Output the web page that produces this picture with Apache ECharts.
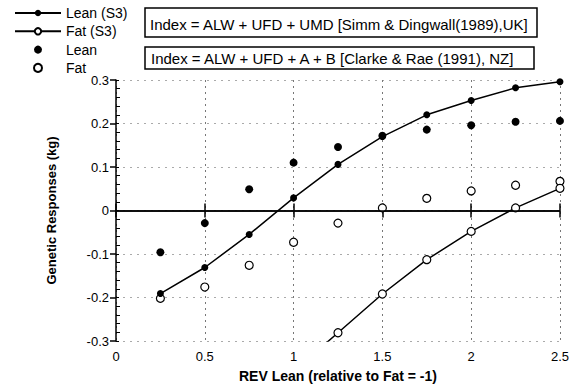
<!DOCTYPE html>
<html><head><meta charset="utf-8">
<script src="https://cdn.jsdelivr.net/npm/echarts@6/dist/echarts.min.js"></script>
<style>html,body{margin:0;padding:0;background:#fff}#c{width:572px;height:388px}</style>
</head><body><div id="c"></div>
<script>
// ---- data ----
const xValues   = [0.25, 0.5, 0.75, 1.0, 1.25, 1.5, 1.75, 2.0, 2.25, 2.5];
const leanS3    = [-0.191, -0.131, -0.055, 0.029, 0.106, 0.170, 0.220, 0.253, 0.282, 0.296];
const fatS3     = [null, null, null, -0.370, -0.281, -0.192, -0.113, -0.048, 0.006, 0.051];
const lean      = [-0.096, -0.029, 0.049, 0.110, 0.146, 0.172, 0.186, 0.196, 0.204, 0.206];
const fat       = [-0.202, -0.176, -0.126, -0.073, -0.029, 0.006, 0.028, 0.045, 0.058, 0.067];
const seriesNames = ['Lean (S3)', 'Fat (S3)', 'Lean', 'Fat'];
const xTickLabels = ['0', '0.5', '1', '1.5', '2', '2.5'];
const yTickLabels = ['-0.3', '-0.2', '-0.1', '0', '0.1', '0.2', '0.3'];
const boxTexts = [
  'Index = ALW + UFD + UMD [Simm & Dingwall(1989),UK]',
  'Index = ALW + UFD + A + B [Clarke & Rae (1991), NZ]'
];
const xTitle = 'REV Lean (relative to Fat = -1)';
const yTitle = 'Genetic Responses (kg)';

function pairs(arr) {
  const out = [];
  arr.forEach((v, i) => { if (v !== null) out.push([xValues[i], v]); });
  return out;
}

const FONT = 'Liberation Sans, Arial, sans-serif';
const chart = echarts.init(document.getElementById('c'), null, {renderer: 'svg'});

const xLabelFmt = v => xTickLabels[Math.round(v / 0.5)];
const yLabelFmt = v => yTickLabels[Math.round((v + 0.3) / 0.1)];

chart.setOption({
  animation: false,
  backgroundColor: '#fff',
  grid: {left: 116, right: 8, top: 80, bottom: 40},
  legend: {
    orient: 'vertical', left: 9, top: 1,
    itemWidth: 46, itemHeight: 8, itemGap: 4.3,
    data: seriesNames,
    textStyle: {fontSize: 14, color: '#000', fontFamily: FONT},
    inactiveColor: '#000'
  },
  xAxis: [{
    type: 'value', min: 0, max: 2.5, interval: 0.5,
    axisLine: {show: true, lineStyle: {color: '#000', width: 1.5}},
    axisTick: {show: true, length: 7, lineStyle: {color: '#000', width: 1.5}},
    axisLabel: {formatter: xLabelFmt, color: '#000', fontSize: 13, fontFamily: FONT, margin: 9},
    splitLine: {show: true, lineStyle: {color: '#777', type: [2, 4], width: 1}},
    name: xTitle, nameLocation: 'middle', nameGap: 28,
    nameTextStyle: {fontSize: 14, fontWeight: 'bold', color: '#000', fontFamily: FONT}
  }, {
    type: 'value', min: 0, max: 2.5, interval: 0.5, position: 'bottom',
    axisLine: {show: false},
    axisTick: {show: true, inside: true, length: 7, lineStyle: {color: '#000', width: 1.5}},
    axisLabel: {show: false}, splitLine: {show: false}
  }],
  yAxis: [{
    type: 'value', min: -0.3, max: 0.3, interval: 0.1,
    axisLine: {show: true, lineStyle: {color: '#000', width: 1.5}},
    axisTick: {show: true, length: 6, lineStyle: {color: '#000', width: 1.5}},
    axisLabel: {formatter: yLabelFmt, color: '#000', fontSize: 13, fontFamily: FONT, margin: 7},
    splitLine: {show: true, lineStyle: {color: '#aaa', type: [2, 5], width: 1}},
    name: yTitle, nameLocation: 'middle', nameGap: 58,
    nameTextStyle: {fontSize: 13, fontWeight: 'bold', color: '#000', fontFamily: FONT}
  }, {
    type: 'value', min: -0.3, max: 0.3, interval: 0.1, position: 'left',
    axisLine: {show: false},
    axisTick: {show: true, inside: true, length: 3, lineStyle: {color: '#000', width: 1}},
    minorTick: {show: true, splitNumber: 5, length: 4, lineStyle: {color: '#000', width: 1}},
    axisLabel: {show: false}, splitLine: {show: false}
  }],
  series: [{
    name: seriesNames[0], type: 'line', data: pairs(leanS3),
    symbol: 'circle', symbolSize: 7,
    lineStyle: {color: '#000', width: 1.5},
    itemStyle: {color: '#000', opacity: 1},
    markLine: {
      silent: true, symbol: 'none', label: {show: false},
      lineStyle: {color: '#000', width: 1.5, type: 'solid'},
      data: [{yAxis: 0}]
    },
    z: 3
  }, {
    name: seriesNames[1], type: 'line', data: pairs(fatS3),
    symbol: 'circle', symbolSize: 8,
    lineStyle: {color: '#000', width: 1.5},
    itemStyle: {color: '#fff', borderColor: '#000', borderWidth: 1.2, opacity: 1},
    z: 3
  }, {
    name: seriesNames[2], type: 'scatter', data: pairs(lean),
    symbol: 'circle', symbolSize: 8,
    itemStyle: {color: '#000', opacity: 1}
  }, {
    name: seriesNames[3], type: 'scatter', data: pairs(fat),
    symbol: 'circle', symbolSize: 8,
    itemStyle: {color: '#fff', borderColor: '#000', borderWidth: 1.2, opacity: 1}
  }],
  graphic: [
    {type: 'rect', shape: {x: 145, y: 8, width: 392, height: 29},
     style: {fill: '#fff', stroke: '#000', lineWidth: 1.5}},
    {type: 'text', x: 150, y: 24,
     style: {text: boxTexts[0], fontSize: 15, fontFamily: FONT, fill: '#000', verticalAlign: 'middle'}},
    {type: 'rect', shape: {x: 145, y: 47, width: 389, height: 22},
     style: {fill: '#fff', stroke: '#000', lineWidth: 1.5}},
    {type: 'text', x: 151, y: 58,
     style: {text: boxTexts[1], fontSize: 15, fontFamily: FONT, fill: '#000', verticalAlign: 'middle'}}
  ]
});
</script>
</body></html>
